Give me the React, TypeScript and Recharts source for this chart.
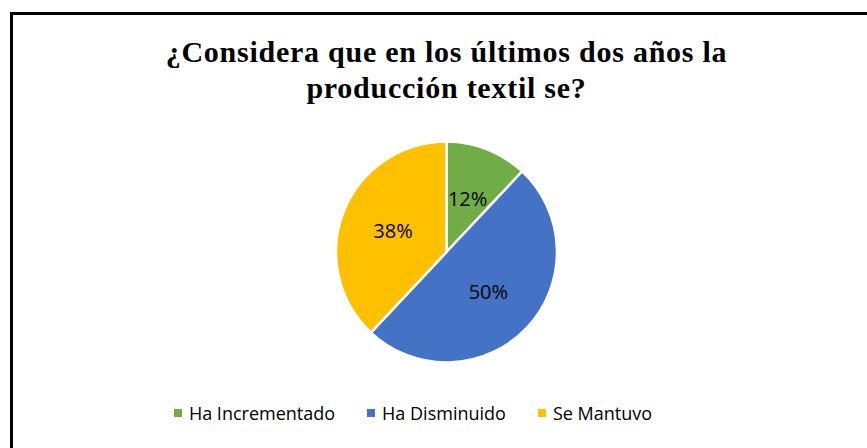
import type { FC } from 'react';
import { Cell, Legend, Pie, PieChart } from 'recharts';

const categories = ['Ha Incrementado', 'Ha Disminuido', 'Se Mantuvo'];
const shares = [12, 50, 38];
const colors = ['#70AD47', '#4472C4', '#FFC000'];
const titleLines = ['¿Considera que en los últimos dos años la', 'producción textil se?'];

const data = categories.map((name, i) => ({ name, value: shares[i] }));

const RAD = Math.PI / 180;

const renderLabel = ({ cx, cy, midAngle, outerRadius, value }: any) => {
  const r = outerRadius * 0.52;
  const x = cx + r * Math.cos(-midAngle * RAD);
  const y = cy + r * Math.sin(-midAngle * RAD);
  return (
    <text
      x={x}
      y={y}
      fill='#000'
      textAnchor='middle'
      dominantBaseline='central'
      fontSize={20}
      fontFamily='"Open Sans", sans-serif'
    >
      {`${value}%`}
    </text>
  );
};

const LegendContent: FC = () => (
  <div
    style={{
      display: 'flex',
      justifyContent: 'center',
      gap: 32,
      fontFamily: '"Open Sans", sans-serif',
      fontSize: 18,
      lineHeight: '24px',
      color: '#000',
      marginLeft: -67,
    }}
  >
    {categories.map((c, i) => (
      <div key={c} style={{ display: 'flex', alignItems: 'center' }}>
        <span style={{ width: 8, height: 8, background: colors[i], marginRight: 7, display: 'inline-block' }} />
        <span>{c}</span>
      </div>
    ))}
  </div>
);

const App: FC = () => (
  <div style={{ position: 'fixed', left: 0, top: 0, width: 867, height: 448, background: '#fff', overflow: 'hidden' }}>
    <div
      style={{
        position: 'absolute',
        left: 10,
        top: 12,
        width: 900,
        height: 480,
        border: '3px solid #000',
        boxSizing: 'border-box',
      }}
    />
    <div
      style={{
        position: 'absolute',
        left: 0,
        top: 34,
        width: 893,
        textAlign: 'center',
        fontFamily: '"Liberation Serif", "Times New Roman", serif',
        fontWeight: 'bold',
        fontSize: 30,
        letterSpacing: 0.75,
        lineHeight: '36px',
        color: '#000',
      }}
    >
      {titleLines.map((t) => (
        <div key={t}>{t}</div>
      ))}
    </div>
    <div style={{ position: 'absolute', left: 0, top: 0 }}>
      <PieChart width={893} height={448} margin={{ top: 0, right: 0, bottom: 0, left: 0 }}>
        <Pie
          data={data}
          dataKey='value'
          nameKey='name'
          cx={446.5}
          cy={252}
          outerRadius={110.5}
          startAngle={90}
          endAngle={-270}
          stroke='#fff'
          strokeWidth={2.5}
          label={renderLabel}
          labelLine={false}
          isAnimationActive={false}
        >
          {data.map((d, i) => (
            <Cell key={d.name} fill={colors[i]} />
          ))}
        </Pie>
        <Legend
          content={<LegendContent />}
          wrapperStyle={{ position: 'absolute', left: 0, top: 401, width: 893 }}
        />
      </PieChart>
    </div>
  </div>
);

export default App;
